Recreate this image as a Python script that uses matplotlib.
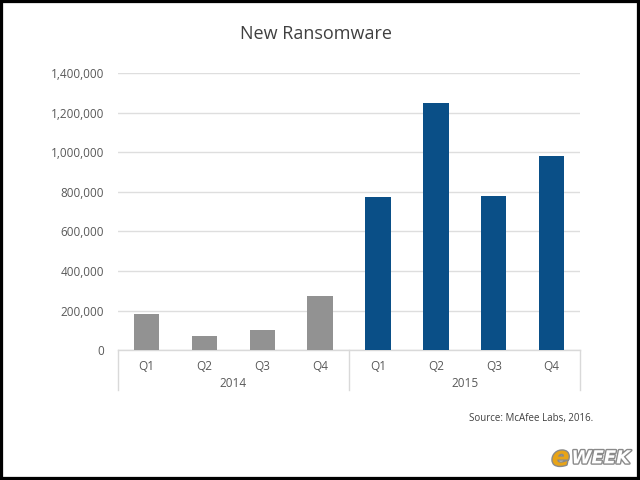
import matplotlib
matplotlib.use("Agg")
import matplotlib.pyplot as plt
import matplotlib.patheffects as pe
from matplotlib.patches import Rectangle
from matplotlib.ticker import FuncFormatter

quarters = ["Q1", "Q2", "Q3", "Q4", "Q1", "Q2", "Q3", "Q4"]
years = ["2014", "2015"]
values_2014 = [181000, 69000, 103000, 273000]
values_2015 = [776000, 1250000, 781000, 981000]
yticks = [0, 200000, 400000, 600000, 800000, 1000000, 1200000, 1400000]

plt.rcParams['font.family'] = ['Open Sans', 'DejaVu Sans']

fig = plt.figure(figsize=(6.4, 4.8), dpi=100)
ax = fig.add_axes([0.184, 0.2708, 0.723, 0.5762])

gray = "#929292"
blue = "#0a4f87"
x14 = list(range(4))
x15 = list(range(4, 8))
ax.bar(x14, values_2014, width=0.44, color=gray, zorder=3)
ax.bar(x15, values_2015, width=0.44, color=blue, zorder=3)

ax.set_xlim(-0.5, 7.5)
ax.set_ylim(0, 1400000)
ax.set_yticks(yticks)
ax.yaxis.set_major_formatter(FuncFormatter(lambda v, p: f"{int(v):,}"))
ax.tick_params(axis='y', length=0, pad=10, labelsize=8.5, labelcolor="#595959")
ax.grid(axis='y', color="#dedede", linewidth=1, zorder=0)
for s in ["top", "right", "left"]:
    ax.spines[s].set_visible(False)
ax.spines["bottom"].set_color("#d9d9d9")
ax.spines["bottom"].set_linewidth(1)

ax.set_xticks(range(8))
ax.set_xticklabels(quarters)
ax.tick_params(axis='x', length=0, pad=7, labelsize=8.5, labelcolor="#595959")

# year group labels and separators
trans = ax.get_xaxis_transform()
for i, yr in enumerate(years):
    ax.text(1.5 + 4 * i, -0.122, yr, transform=trans, ha='center', va='center',
            fontsize=8.5, color="#595959")
for xs in [-0.5, 3.5, 7.5]:
    ax.plot([xs, xs], [0, -0.145], transform=trans, color="#d9d9d9",
            linewidth=1, clip_on=False)

fig.text(0.494, 0.929, "New Ransomware", ha='center', va='center',
         fontsize=13, color="#404040")
fig.text(0.927, 0.129, "Source: McAfee Labs, 2016.", ha='right', va='center',
         fontsize=7, color="#404040")

# eWEEK logo text
shadow = [pe.withStroke(linewidth=2, foreground="#8a8a8a")]
fig.text(0.862, 0.045, "e", ha='left', va='center', fontsize=19, fontweight='bold',
         style='italic', color="#e8a417", path_effects=shadow, family='DejaVu Sans')
fig.text(0.893, 0.045, "WEEK", ha='left', va='center', fontsize=13, fontweight='bold',
         style='italic', color="white", path_effects=shadow, family='DejaVu Sans')

fig.patches.append(Rectangle((0, 0), 1, 1, transform=fig.transFigure, fill=False,
                             edgecolor="black", linewidth=4.5))

fig.savefig("out.png", dpi=100)
